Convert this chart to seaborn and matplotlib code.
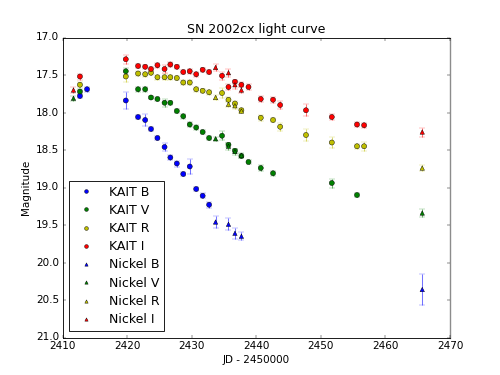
import matplotlib
matplotlib.use("Agg")
import matplotlib.pyplot as plt
from matplotlib.ticker import ScalarFormatter
import pandas as pd
import seaborn as sns

# KAIT photometry
kait_b_jd = [2412.7, 2413.8, 2419.8, 2421.7, 2422.8, 2423.7, 2424.7, 2425.8, 2426.7,
             2427.7, 2428.7, 2429.7, 2430.7, 2431.7, 2432.7]
kait_b_mag = [17.78, 17.69, 17.84, 18.06, 18.10, 18.22, 18.34, 18.46, 18.60,
              18.68, 18.82, 18.72, 19.02, 19.11, 19.23]
kait_b_err = [0.03, 0.03, 0.115, 0.03, 0.08, 0.03, 0.03, 0.055, 0.03,
              0.04, 0.03, 0.10, 0.03, 0.03, 0.04]

kait_v_jd = [2412.7, 2419.8, 2421.7, 2422.8, 2423.7, 2424.7, 2425.8, 2426.7, 2427.7,
             2428.7, 2429.7, 2430.7, 2431.7, 2432.7, 2434.7, 2435.7, 2436.7, 2437.7,
             2438.8, 2440.7, 2442.6, 2451.7, 2455.6]
kait_v_mag = [17.72, 17.45, 17.69, 17.69, 17.80, 17.82, 17.87, 17.87, 17.98,
              18.05, 18.16, 18.20, 18.26, 18.34, 18.31, 18.43, 18.51, 18.58,
              18.66, 18.74, 18.81, 18.94, 19.10]
kait_v_err = [0.03, 0.05, 0.03, 0.03, 0.02, 0.03, 0.05, 0.03, 0.03,
              0.03, 0.03, 0.03, 0.03, 0.03, 0.06, 0.03, 0.03, 0.03,
              0.03, 0.04, 0.03, 0.06, 0.03]

kait_r_jd = [2412.7, 2419.8, 2421.7, 2422.8, 2423.7, 2424.7, 2425.8, 2426.7, 2427.7,
             2428.7, 2429.7, 2430.7, 2431.7, 2432.7, 2434.7, 2435.7, 2436.7, 2437.7,
             2440.7, 2442.6, 2443.7, 2447.7, 2451.7, 2455.6, 2456.7]
kait_r_mag = [17.63, 17.52, 17.48, 17.49, 17.47, 17.53, 17.53, 17.53, 17.54,
              17.60, 17.60, 17.69, 17.71, 17.73, 17.74, 17.83, 17.88, 17.97,
              18.07, 18.10, 18.19, 18.30, 18.40, 18.45, 18.45]
kait_r_err = [0.03, 0.07, 0.03, 0.03, 0.03, 0.03, 0.04, 0.03, 0.03,
              0.03, 0.03, 0.03, 0.03, 0.03, 0.065, 0.03, 0.03, 0.03,
              0.04, 0.03, 0.05, 0.08, 0.08, 0.03, 0.06]

kait_i_jd = [2412.7, 2419.8, 2421.7, 2422.8, 2423.7, 2424.7, 2425.8, 2426.7, 2427.7,
             2428.7, 2429.7, 2430.7, 2431.7, 2432.7, 2434.7, 2435.7, 2436.7, 2437.7,
             2438.8, 2440.7, 2442.6, 2443.7, 2447.7, 2451.7, 2455.6, 2456.7]
kait_i_mag = [17.52, 17.29, 17.38, 17.39, 17.42, 17.37, 17.42, 17.36, 17.39,
              17.46, 17.45, 17.49, 17.43, 17.46, 17.51, 17.66, 17.59, 17.63,
              17.66, 17.82, 17.83, 17.90, 17.97, 18.06, 18.16, 18.17]
kait_i_err = [0.04, 0.06, 0.03, 0.03, 0.03, 0.03, 0.05, 0.03, 0.03,
              0.03, 0.03, 0.03, 0.03, 0.03, 0.05, 0.04, 0.03, 0.03,
              0.04, 0.04, 0.04, 0.05, 0.08, 0.04, 0.03, 0.03]

# Nickel photometry
nickel_b_jd = [2433.7, 2435.7, 2436.7, 2437.7, 2465.7]
nickel_b_mag = [19.46, 19.49, 19.61, 19.65, 20.36]
nickel_b_err = [0.08, 0.08, 0.07, 0.055, 0.21]

nickel_v_jd = [2411.7, 2433.7, 2435.7, 2436.7, 2437.7, 2465.7]
nickel_v_mag = [17.81, 18.35, 18.45, 18.52, 18.57, 19.34]
nickel_v_err = [0.03, 0.03, 0.05, 0.04, 0.03, 0.05]

nickel_r_jd = [2433.7, 2435.7, 2436.7, 2437.7, 2465.7]
nickel_r_mag = [17.80, 17.89, 17.91, 17.98, 18.74]
nickel_r_err = [0.03, 0.04, 0.04, 0.03, 0.04]

nickel_i_jd = [2411.7, 2433.7, 2435.7, 2436.7, 2437.7, 2465.7]
nickel_i_mag = [17.70, 17.40, 17.47, 17.63, 17.70, 18.26]
nickel_i_err = [0.04, 0.05, 0.05, 0.05, 0.04, 0.06]

series = [
    ("KAIT B", kait_b_jd, kait_b_mag, kait_b_err),
    ("KAIT V", kait_v_jd, kait_v_mag, kait_v_err),
    ("KAIT R", kait_r_jd, kait_r_mag, kait_r_err),
    ("KAIT I", kait_i_jd, kait_i_mag, kait_i_err),
    ("Nickel B", nickel_b_jd, nickel_b_mag, nickel_b_err),
    ("Nickel V", nickel_v_jd, nickel_v_mag, nickel_v_err),
    ("Nickel R", nickel_r_jd, nickel_r_mag, nickel_r_err),
    ("Nickel I", nickel_i_jd, nickel_i_mag, nickel_i_err),
]

frames = []
for label, jd, mag, err in series:
    frames.append(pd.DataFrame({"jd": jd, "mag": mag, "err": err, "label": label}))
df = pd.concat(frames, ignore_index=True)

band_colors = {"B": "b", "V": "g", "R": "y", "I": "r"}
order = [s[0] for s in series]
palette = {lab: band_colors[lab[-1]] for lab in order}
markers = {lab: ("o" if lab.startswith("KAIT") else "^") for lab in order}
sizes = {lab: (34 if lab.startswith("KAIT") else 26) for lab in order}

plt.style.use("classic")
plt.rcParams["font.family"] = ["DejaVu Sans"]

fig, ax = plt.subplots(figsize=(8, 6), dpi=62.5)
fig.patch.set_facecolor("white")

# error bars first, lighter
for label, jd, mag, err in series:
    ax.errorbar(jd, mag, yerr=err, fmt="none", ecolor=palette[label],
                alpha=0.55, capsize=3, elinewidth=1.2, zorder=1)

sns.scatterplot(data=df, x="jd", y="mag", hue="label", style="label", size="label",
                hue_order=order, style_order=order, size_order=order,
                palette=palette, markers=markers, sizes=sizes, edgecolor="k",
                linewidth=0.5, ax=ax, zorder=2)

ax.set_xlim(2410, 2470)
ax.set_ylim(21.0, 17.0)
ax.set_yticks([17.0, 17.5, 18.0, 18.5, 19.0, 19.5, 20.0, 20.5, 21.0])
ax.xaxis.set_major_formatter(ScalarFormatter(useOffset=False))
ax.set_xlabel("JD - 2450000")
ax.set_ylabel("Magnitude")
ax.set_title("SN 2002cx light curve")

ax.spines["right"].set_color("0.55")
ax.spines["right"].set_linewidth(1.6)
for t in ax.yaxis.get_major_ticks():
    t.tick2line.set_color("0.6")

handles, labels = ax.get_legend_handles_labels()
ax.legend(handles, labels, loc="lower left", numpoints=1, scatterpoints=1,
          markerscale=0.75, fontsize=14.4, fancybox=False, labelspacing=0.42)

fig.savefig("out.png", dpi=62.5, facecolor="white")
